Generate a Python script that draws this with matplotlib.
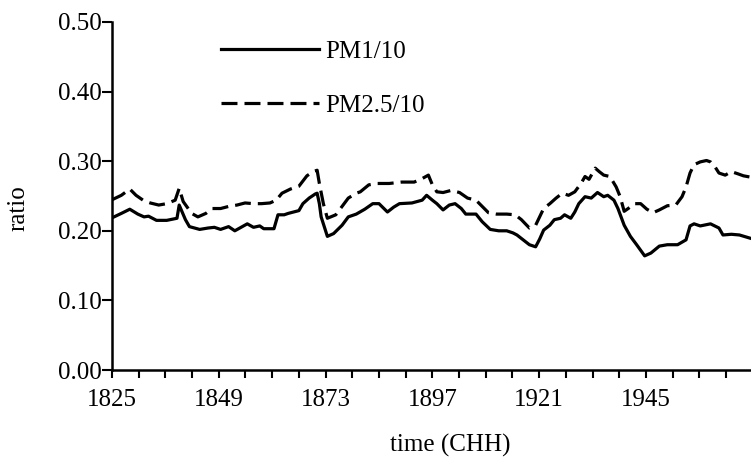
import numpy as np
import matplotlib
matplotlib.use("Agg")
import matplotlib.pyplot as plt
from matplotlib.ticker import MultipleLocator, FormatStrFormatter

plt.rcParams['font.family'] = ['Liberation Serif', 'DejaVu Serif']

# PM1/10 ratio series
t_pm1 = [1824.8, 1827.1, 1829.0, 1830.8, 1832.2, 1833.2, 1835.0, 1837.3, 1839.6, 1840.1,
         1841.5, 1842.4, 1844.7, 1846.6, 1848.0, 1849.4, 1851.2, 1852.6, 1854.0, 1855.4,
         1856.8, 1858.2, 1859.1, 1861.4, 1862.3, 1863.7, 1864.6, 1867.0, 1867.9, 1869.3,
         1870.7, 1871.1, 1871.6, 1872.0, 1873.4, 1874.8, 1876.7, 1878.1, 1879.9, 1881.8,
         1883.6, 1885.0, 1886.9, 1888.3, 1889.6, 1892.4, 1894.7, 1895.7, 1897.0, 1898.0,
         1899.4, 1900.8, 1902.1, 1903.5, 1904.5, 1906.8, 1908.2, 1910.0, 1911.9, 1913.7,
         1915.1, 1916.0, 1917.4, 1918.8, 1920.2, 1921.1, 1922.0, 1923.4, 1924.4, 1925.8,
         1926.7, 1928.1, 1929.0, 1929.9, 1931.3, 1932.7, 1934.1, 1935.5, 1936.4, 1937.8,
         1938.7, 1940.1, 1941.5, 1942.9, 1944.7, 1946.1, 1948.0, 1949.8, 1952.1, 1954.0,
         1954.9, 1955.8, 1957.2, 1959.5, 1961.4, 1962.3, 1964.2, 1966.0, 1968.6]
pm1 = [0.218, 0.225, 0.231, 0.224, 0.220, 0.221, 0.215, 0.215, 0.218, 0.237,
       0.216, 0.206, 0.202, 0.204, 0.205, 0.202, 0.206, 0.200, 0.205, 0.210,
       0.205, 0.207, 0.203, 0.203, 0.223, 0.223, 0.225, 0.229, 0.239, 0.247,
       0.253, 0.254, 0.239, 0.220, 0.192, 0.196, 0.208, 0.220, 0.224, 0.231,
       0.239, 0.239, 0.227, 0.234, 0.239, 0.240, 0.244, 0.251, 0.244, 0.239,
       0.230, 0.237, 0.239, 0.232, 0.224, 0.224, 0.213, 0.202, 0.200, 0.200,
       0.197, 0.194, 0.187, 0.180, 0.177, 0.188, 0.201, 0.208, 0.216, 0.218,
       0.223, 0.218, 0.227, 0.239, 0.249, 0.247, 0.255, 0.249, 0.251, 0.244,
       0.232, 0.208, 0.192, 0.180, 0.164, 0.168, 0.178, 0.180, 0.180, 0.187,
       0.207, 0.210, 0.207, 0.210, 0.204, 0.194, 0.195, 0.194, 0.189]

# PM2.5/10 ratio series
t_pm25 = [1824.8, 1827.1, 1829.0, 1830.4, 1832.2, 1833.6, 1835.5, 1837.3, 1839.2, 1840.1,
          1841.0, 1842.9, 1844.3, 1846.1, 1847.5, 1849.4, 1851.2, 1853.1, 1854.9, 1856.8,
          1858.6, 1860.5, 1861.9, 1863.2, 1865.1, 1867.0, 1868.8, 1870.2, 1871.1, 1871.6,
          1872.5, 1873.4, 1875.3, 1876.7, 1878.1, 1879.9, 1880.8, 1882.7, 1884.5, 1887.3,
          1890.1, 1892.9, 1894.7, 1896.1, 1897.0, 1898.0, 1899.4, 1901.2, 1903.1, 1904.9,
          1906.8, 1908.2, 1909.6, 1911.4, 1913.7, 1915.6, 1917.0, 1918.8, 1920.2, 1921.1,
          1922.0, 1923.4, 1924.8, 1926.2, 1927.6, 1929.0, 1930.4, 1931.3, 1932.2, 1933.6,
          1934.5, 1935.5, 1936.9, 1938.3, 1939.2, 1940.1, 1941.0, 1942.4, 1943.8, 1945.2,
          1946.6, 1948.0, 1949.8, 1951.7, 1953.1, 1954.0, 1954.9, 1955.8, 1957.2, 1958.6,
          1959.5, 1960.5, 1961.4, 1962.8, 1964.2, 1965.6, 1966.9, 1968.6]
pm25 = [0.244, 0.251, 0.260, 0.251, 0.243, 0.240, 0.237, 0.239, 0.244, 0.261,
        0.242, 0.225, 0.220, 0.225, 0.232, 0.232, 0.235, 0.237, 0.240, 0.239,
        0.239, 0.240, 0.244, 0.254, 0.260, 0.264, 0.279, 0.285, 0.287, 0.268,
        0.239, 0.218, 0.223, 0.235, 0.247, 0.254, 0.256, 0.266, 0.268, 0.268,
        0.270, 0.270, 0.275, 0.280, 0.266, 0.256, 0.255, 0.258, 0.255, 0.247,
        0.244, 0.235, 0.226, 0.224, 0.224, 0.223, 0.216, 0.204, 0.208, 0.220,
        0.232, 0.239, 0.247, 0.254, 0.251, 0.256, 0.268, 0.278, 0.274, 0.290,
        0.285, 0.280, 0.278, 0.263, 0.249, 0.228, 0.232, 0.239, 0.239, 0.231,
        0.226, 0.230, 0.236, 0.237, 0.249, 0.263, 0.283, 0.295, 0.299, 0.301,
        0.299, 0.292, 0.283, 0.280, 0.285, 0.282, 0.279, 0.277]

fig = plt.figure(figsize=(7.51, 4.61), dpi=100)
ax = fig.add_axes([112 / 751, 91 / 461, 639 / 751, 348 / 461])

ax.plot(t_pm1, pm1, color='black', lw=2.3, label='PM1/10')
ax.plot(t_pm25, pm25, color='black', lw=2.3, linestyle=(0, (5, 2.2)), label='PM2.5/10')

ax.set_xlim(1825, 1968.6)
ax.set_ylim(0, 0.5)
# labelled ticks every 24 starting at 1825, small ticks every 6
ax.xaxis.set_major_locator(MultipleLocator(24, offset=1))
ax.xaxis.set_minor_locator(MultipleLocator(6, offset=1))
ax.yaxis.set_major_locator(MultipleLocator(0.1))
ax.yaxis.set_major_formatter(FormatStrFormatter('%.2f'))

for s in ['top', 'right']:
    ax.spines[s].set_visible(False)
for s in ['left', 'bottom']:
    ax.spines[s].set_linewidth(1.8)

ax.tick_params(axis='y', which='major', length=7, width=1.5, pad=0.5, labelsize=18)
ax.tick_params(axis='x', which='both', length=6, width=1.5, pad=8, labelsize=18)

fig.text(18 / 751, 1 - 208 / 461, 'ratio', rotation=90, ha='center', va='center', fontsize=18)
fig.text(450 / 751, 1 - 445 / 461, 'time (CHH)', ha='center', va='center', fontsize=18)

fig.legend(loc='upper left', bbox_to_anchor=(221 / 751, 1 - 40 / 461), frameon=False,
           fontsize=18, handlelength=3.9, handletextpad=0.28, labelspacing=1.27,
           borderpad=0, borderaxespad=0)

fig.savefig('out.png', dpi=100)
